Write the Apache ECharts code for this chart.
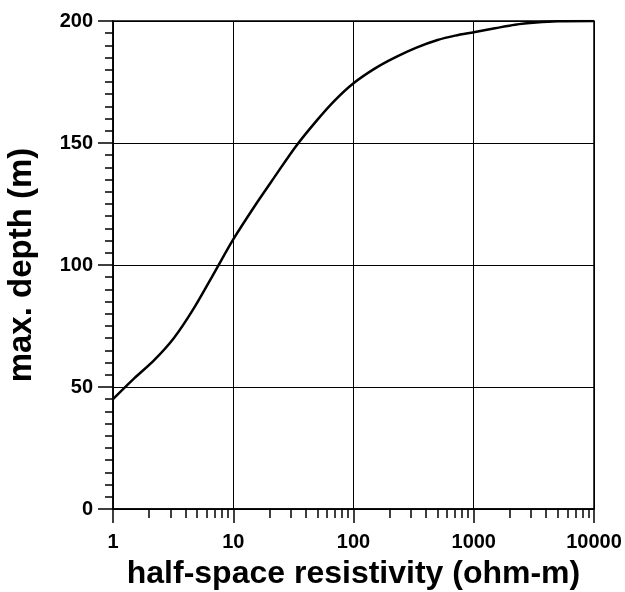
<!DOCTYPE html>
<html>
<head>
<meta charset="utf-8">
<script src="https://cdn.jsdelivr.net/npm/echarts@6/dist/echarts.min.js"></script>
<style>
  html, body { margin: 0; padding: 0; background: #fff; }
  #chart { width: 625px; height: 592px; }
</style>
</head>
<body>
<div id="chart"></div>
<script>
// Maximum investigation depth versus half-space resistivity
const resistivity = [1, 1.5, 2.2, 3.2, 4.6, 6.8, 10, 15, 22, 33, 50, 70, 100, 150, 220, 330, 500, 700, 1000, 1500, 2200, 3300, 5000, 10000];
const maxDepth    = [45, 53.5, 61, 70, 81.5, 96, 110.5, 124, 136, 148.5, 159.5, 167.5, 174.5, 180.5, 185, 189, 192.2, 194, 195.4, 197, 198.5, 199.4, 199.9, 200];

const xMajorTicks = [1, 10, 100, 1000, 10000];
const xMinorTicks = [];
for (const d of [1, 10, 100, 1000]) {
  for (let k = 2; k <= 9; k++) xMinorTicks.push(d * k);
}

const fontFamily = '"Liberation Sans", Arial, sans-serif';
const chart = echarts.init(document.getElementById('chart'));

chart.setOption({
  animation: false,
  backgroundColor: '#fff',
  grid: {
    left: 113, right: 31, top: 21, bottom: 83,
    containLabel: false,
    outerBoundsMode: 'none',
    show: true, borderColor: '#000', borderWidth: 1.5
  },
  xAxis: [
    {
      type: 'log', logBase: 10, min: 1, max: 10000,
      name: 'half-space resistivity (ohm-m)',
      nameLocation: 'middle', nameGap: 49,
      nameTextStyle: { fontFamily, fontWeight: 'bold', fontSize: 32, color: '#000' },
      axisLine: { show: true, lineStyle: { color: '#000', width: 1.5 } },
      axisTick: { show: true, inside: false, length: 14, lineStyle: { color: '#000', width: 1.5 } },
      axisLabel: {
        margin: 23, fontFamily, fontWeight: 'bold', fontSize: 20, color: '#000',
        formatter: v => String(Math.round(v))
      },
      splitLine: { show: true, lineStyle: { color: '#000', width: 1 } }
    },
    {
      type: 'log', logBase: 10, min: 1, max: 10000, position: 'bottom',
      axisLine: { show: false },
      axisTick: { show: true, length: 9, customValues: xMinorTicks, lineStyle: { color: '#000', width: 1.5 } },
      axisLabel: { show: false },
      splitLine: { show: false }
    }
  ],
  yAxis: {
    type: 'value', min: 0, max: 200, interval: 50,
    name: 'max. depth (m)',
    nameLocation: 'middle', nameGap: 75,
    nameTextStyle: { fontFamily, fontWeight: 'bold', fontSize: 33, color: '#000' },
    axisLine: { show: true, lineStyle: { color: '#000', width: 1.5 } },
    axisTick: { show: true, length: 15, lineStyle: { color: '#000', width: 1.5 } },
    minorTick: { show: true, splitNumber: 10, length: 8, lineStyle: { color: '#000', width: 1.5 } },
    axisLabel: { margin: 20, fontFamily, fontWeight: 'bold', fontSize: 20, color: '#000' },
    splitLine: { show: true, lineStyle: { color: '#000', width: 1 } }
  },
  series: [{
    type: 'line',
    xAxisIndex: 0,
    data: resistivity.map((r, i) => [r, maxDepth[i]]),
    smooth: 0.3,
    showSymbol: false,
    lineStyle: { color: '#000', width: 2.5 }
  }]
});
</script>
</body>
</html>
